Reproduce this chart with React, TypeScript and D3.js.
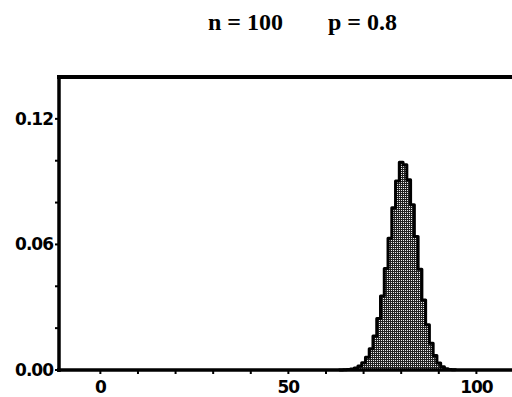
import React from "react";
import * as d3 from "d3";

// successes k and their probabilities
const successes = [64, 65, 66, 67, 68, 69, 70, 71, 72, 73, 74, 75, 76, 77, 78, 79, 80, 81, 82, 83, 84, 85, 86, 87, 88, 89, 90, 91, 92, 93, 94];
const probs = [0.00005, 0.00011, 0.00024, 0.0005, 0.001, 0.0019, 0.0035, 0.0061, 0.0102, 0.0163, 0.0246, 0.0354, 0.0485, 0.063, 0.0775, 0.0903, 0.0993, 0.0981, 0.0909, 0.0789, 0.0638, 0.0481, 0.0335, 0.0216, 0.0128, 0.0069, 0.0034, 0.0015, 0.0006, 0.0002, 0.0001];

const xLabels = [0, 50, 100];
const xTicks = [0, 10, 20, 30, 40, 50, 60, 70, 80, 90, 100];
const yLabels = [0, 0.06, 0.12];
const yTicks = [0, 0.02, 0.04, 0.06, 0.08, 0.1, 0.12];

const width = 512;
const height = 397;

const App = () => {
  const x = d3.scaleLinear().domain([-11, 110]).range([59, 514]);
  const y = d3.scaleLinear().domain([0, 0.14]).range([370, 77]);

  const data = successes.map((k, i) => ({ k, p: probs[i] }));

  // step outline of the histogram
  const pts: [number, number][] = [];
  data.forEach((d) => {
    pts.push([x(d.k - 0.5), y(d.p)]);
    pts.push([x(d.k + 0.5), y(d.p)]);
  });
  const first = data[0];
  const last = data[data.length - 1];
  const outline =
    d3.line()([[x(first.k - 0.5), y(0)], ...pts, [x(last.k + 0.5), y(0)]]) || "";

  const fmt = d3.format(".2f");
  const tickFont = {
    fontFamily: "'DejaVu Sans', sans-serif",
    fontWeight: 700,
    fontSize: 17,
    letterSpacing: -1,
  } as React.CSSProperties;

  return (
    <svg
      width={width}
      height={height}
      style={{ position: "absolute", left: 0, top: 0, background: "#fff" }}
    >
      <defs>
        <pattern id="stipple" width="2" height="2" patternUnits="userSpaceOnUse">
          <rect width="2" height="2" fill="#222" />
          <rect x="1" y="0" width="1" height="1" fill="#eee" />
        </pattern>
      </defs>

      <g fontFamily="'Liberation Serif', serif" fontWeight="700" fontSize="24">
        <text x={208} y={30}>n = 100</text>
        <text x={328} y={30}>p = 0.8</text>
      </g>

      <path d={outline} fill="url(#stipple)" stroke="none" />
      {/* horizontal step edges inside the pile */}
      {data.map((d) => (
        <line
          key={d.k}
          x1={x(d.k - 0.5)}
          x2={x(d.k + 0.5)}
          y1={y(d.p)}
          y2={y(d.p)}
          stroke="#000"
          strokeWidth={1.2}
        />
      ))}
      <path d={outline} fill="none" stroke="#000" strokeWidth={3} strokeLinejoin="round" />

      {/* frame: left axis, top border, x axis */}
      <line x1={59} x2={59} y1={y(0.14)} y2={y(0) + 2} stroke="#000" strokeWidth={3.5} />
      <line x1={57} x2={width} y1={y(0.14)} y2={y(0.14)} stroke="#000" strokeWidth={4} />
      <line x1={57} x2={width} y1={y(0)} y2={y(0)} stroke="#000" strokeWidth={3.5} />

      {xTicks.map((t) => (
        <line key={t} x1={x(t)} x2={x(t)} y1={y(0)} y2={y(0) + 4} stroke="#000" strokeWidth={2} />
      ))}
      {xLabels.map((t) => (
        <text key={t} x={x(t)} y={393} textAnchor="middle" style={tickFont}>
          {t}
        </text>
      ))}

      {yTicks.map((t) => (
        <line key={t} x1={55} x2={59} y1={y(t)} y2={y(t)} stroke="#000" strokeWidth={2} />
      ))}
      {yLabels.map((t) => (
        <text key={t} x={53} y={y(t) + 6} textAnchor="end" style={tickFont}>
          {fmt(t)}
        </text>
      ))}
    </svg>
  );
};

export default App;
